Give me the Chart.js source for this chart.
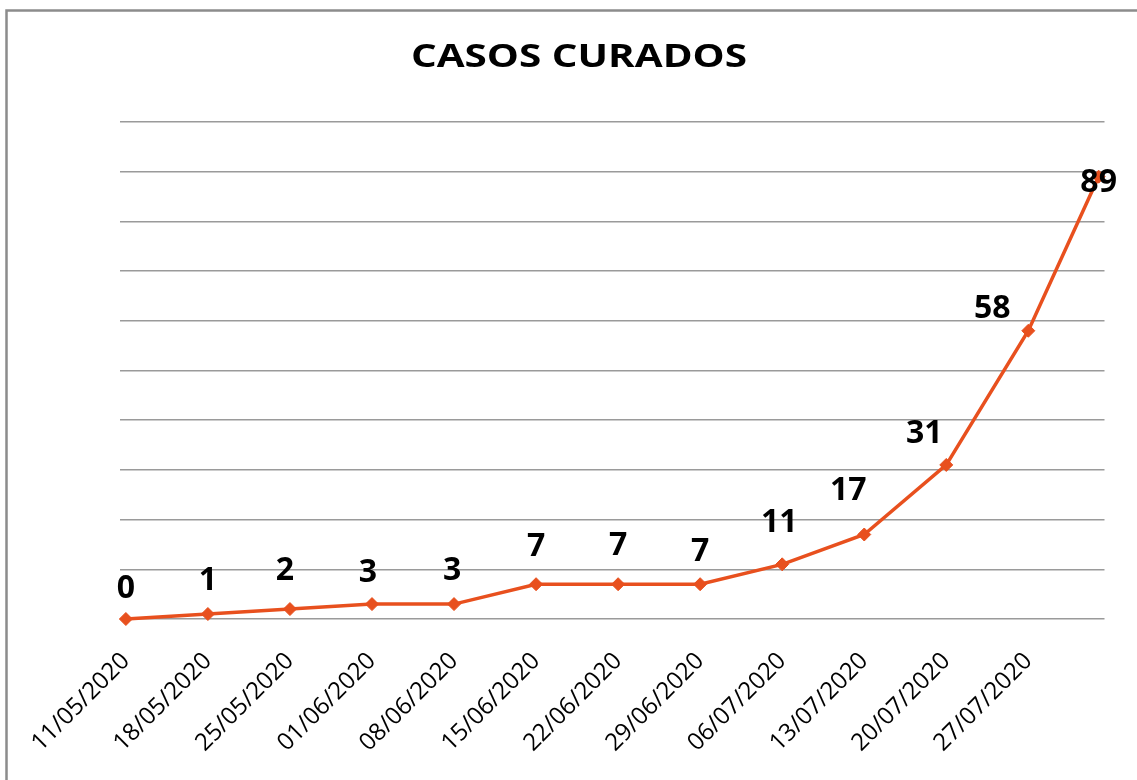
<!DOCTYPE html>
<html>
<head>
<meta charset="utf-8">
<script src="https://cdn.jsdelivr.net/npm/chart.js@4/dist/chart.umd.min.js"></script>
<style>
  html, body { margin: 0; padding: 0; background: #fff; overflow: hidden; }
  #c { display: block; }
</style>
</head>
<body>
<canvas id="c" width="1137" height="780"></canvas>
<script>
// ---- data ----
const titleText = 'CASOS CURADOS';
const dates = ['2020-05-11','2020-05-18','2020-05-25','2020-06-01','2020-06-08','2020-06-15','2020-06-22','2020-06-29','2020-07-06','2020-07-13','2020-07-20','2020-07-27','2020-08-02'];
const curados = [0, 1, 2, 3, 3, 7, 7, 7, 11, 17, 31, 58, 89];
const tickLabels = ['11/05/2020','18/05/2020','25/05/2020','01/06/2020','08/06/2020','15/06/2020','22/06/2020','29/06/2020','06/07/2020','13/07/2020','20/07/2020','27/07/2020'];

// label nudges (pixels) for each data label, as in the original
const labelNudges = [[0,-30],[0,-33],[-5,-38],[-4,-31],[-2,-33],[0,-37],[0,-38],[0,-32],[-3,-41],[-16,-44],[-22,-31],[-36,-22],[0,6]];

const DAY = 86400000;
const t0 = Date.parse(dates[0]);
const dayOf = iso => Math.round((Date.parse(iso) - t0) / DAY);
const tickDays = tickLabels.map(s => { const [d, m, y] = s.split('/'); return dayOf(`${y}-${m}-${d}`); });
const points = dates.map((d, i) => ({ x: dayOf(d), y: curados[i] }));
const lastDay = dayOf(dates[dates.length - 1]);

const borderPlugin = {
  id: 'outerBorder',
  beforeDraw(chart) {
    const ctx = chart.ctx;
    ctx.save();
    ctx.fillStyle = '#ffffff';
    ctx.fillRect(0, 0, chart.width, chart.height);
    ctx.strokeStyle = '#8c8c8c';
    ctx.lineWidth = 2.5;
    ctx.lineCap = 'butt';
    ctx.beginPath();
    ctx.moveTo(6.5, chart.height);
    ctx.lineTo(6.5, 10.5);
    ctx.lineTo(chart.width, 10.5);
    ctx.stroke();
    ctx.restore();
  }
};

const titlePlugin = {
  id: 'wideTitle',
  afterDraw(chart) {
    const ctx = chart.ctx;
    ctx.save();
    ctx.font = 'bold 33px "Open Sans"';
    ctx.fillStyle = '#000';
    ctx.textBaseline = 'middle';
    ctx.textAlign = 'center';
    ctx.translate(579, 58);
    ctx.scale(1.225, 1);
    ctx.fillText(titleText, 0, 0);
    ctx.restore();
  }
};

const dataLabelPlugin = {
  id: 'valueLabels',
  afterDatasetsDraw(chart) {
    const ctx = chart.ctx;
    const meta = chart.getDatasetMeta(0);
    ctx.save();
    ctx.font = 'bold 32px "Open Sans"';
    ctx.fillStyle = '#000';
    ctx.textAlign = 'center';
    ctx.textBaseline = 'middle';
    meta.data.forEach((pt, i) => {
      const n = labelNudges[i] || [0, -34];
      ctx.fillText(String(curados[i]), pt.x + n[0], pt.y + n[1]);
    });
    ctx.restore();
  }
};

new Chart(document.getElementById('c'), {
  type: 'line',
  data: {
    datasets: [{
      data: points,
      clip: false,
      borderColor: '#E8501E',
      backgroundColor: '#E8501E',
      borderWidth: 3.5,
      tension: 0,
      pointStyle: 'rectRot',
      pointRadius: 6.5,
      pointBorderWidth: 1,
      pointBackgroundColor: '#E8501E',
      pointBorderColor: '#E8501E'
    }]
  },
  options: {
    responsive: false,
    animation: false,
    devicePixelRatio: 1,
    layout: { padding: { left: 0, right: 32.5, top: 122, bottom: 0 }, autoPadding: false },
    plugins: {
      legend: { display: false },
      tooltip: { enabled: false },
      title: { display: false }
    },
    scales: {
      x: {
        type: 'linear',
        min: -0.5,
        max: lastDay + 0.5,
        grid: { display: false },
        border: { display: false },
        afterBuildTicks: s => { s.ticks = tickDays.map(v => ({ value: v })); },
        afterFit: s => { s.height = 161; },
        ticks: {
          autoSkip: false,
          minRotation: 45,
          maxRotation: 45,
          padding: 20,
          color: '#000',
          font: { family: '"Open Sans"', size: 24 },
          callback: (v) => { const i = tickDays.indexOf(v); return i >= 0 ? tickLabels[i] : ''; }
        }
      },
      y: {
        min: 0,
        max: 100,
        grid: { color: '#9a9a9a', lineWidth: 1.5, drawTicks: false },
        border: { display: false },
        afterFit: s => { s.width = 120; },
        ticks: { display: false, stepSize: 10 }
      }
    }
  },
  plugins: [borderPlugin, titlePlugin, dataLabelPlugin]
});
</script>
</body>
</html>
